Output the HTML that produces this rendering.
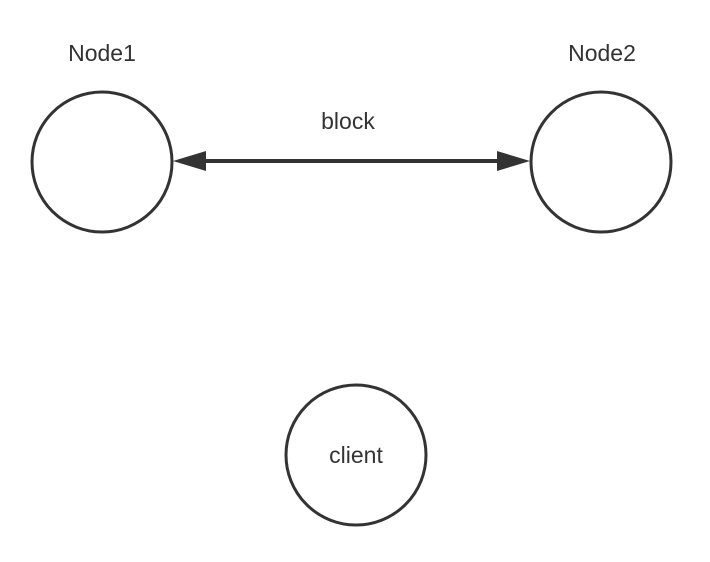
<!DOCTYPE html>
<html><head><style>
html,body{margin:0;padding:0;background:#fff;width:710px;height:562px;overflow:hidden}
svg text{font-family:"Liberation Sans",sans-serif;font-size:23px;fill:#333}
</style></head><body>
<svg width="710" height="562" xmlns="http://www.w3.org/2000/svg">
<g fill="none" stroke="#333" stroke-width="3">
<circle cx="102" cy="162" r="70"/>
<circle cx="601" cy="162" r="70"/>
<circle cx="356" cy="455" r="70"/>
</g>
<line x1="200" y1="161" x2="503" y2="161" stroke="#333" stroke-width="4"/>
<polygon points="173,161 206,151 206,171" fill="#333"/>
<polygon points="530,161 497,151 497,171" fill="#333"/>
<text x="102" y="61" text-anchor="middle">Node1</text>
<text x="602" y="61" text-anchor="middle">Node2</text>
<text x="348" y="129" text-anchor="middle">block</text>
<text x="356" y="463" text-anchor="middle">client</text>
</svg>
</body></html>
